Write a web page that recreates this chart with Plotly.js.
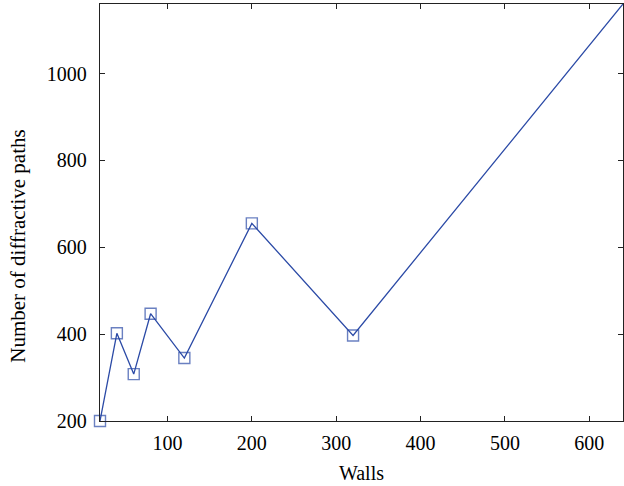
<!DOCTYPE html>
<html><head><meta charset="utf-8">
<script src="https://cdn.plot.ly/plotly-3.0.1.min.js"></script>
<style>body{margin:0;padding:0;background:#fff}</style>
</head><body><div id="chart" style="width:624px;height:486px"></div>
<script>
const walls = [20, 40, 60, 80, 120, 200, 320, 640];
const paths = [200, 402, 308, 447, 345, 655, 397, 1160];
const markerSizes = [11, 11, 11, 11, 11, 11, 11, 0];
const xTicks = [100, 200, 300, 400, 500, 600];
const yTicks = [200, 400, 600, 800, 1000];
const xTitle = 'Walls';
const yTitle = 'Number of diffractive paths';

const font = {family: '"Liberation Serif", "DejaVu Serif", serif', size: 20, color: '#000'};
const yfont = {family: '"Liberation Serif", "DejaVu Serif", serif', size: 21, color: '#000'};
Plotly.newPlot('chart', [{
  x: walls, y: paths, type: 'scatter', mode: 'lines+markers',
  line: {color: '#2b4aa6', width: 1.3},
  marker: {symbol: 'square-open', size: markerSizes, color: '#2b4aa6', line: {width: 1.4, color: '#2b4aa6'}},
  cliponaxis: false
}], {
  width: 624, height: 486,
  margin: {l: 100, r: 1, t: 4, b: 65},
  paper_bgcolor: '#fff', plot_bgcolor: '#fff',
  showlegend: false,
  font: font,
  xaxis: {range: [20, 640], tickvals: xTicks, ticks: 'inside', ticklen: 5, tickcolor: '#222',
    showline: true, linecolor: '#222', linewidth: 1.3, mirror: 'ticks', showgrid: false, zeroline: false,
    title: {text: xTitle, font: font, standoff: 12}, tickfont: font, ticklabelstandoff: 4},
  yaxis: {range: [200, 1160], tickvals: yTicks, ticks: 'inside', ticklen: 5, tickcolor: '#222',
    showline: true, linecolor: '#222', linewidth: 1.3, mirror: 'ticks', showgrid: false, zeroline: false,
    tickfont: font, ticklabelstandoff: 8},
  annotations: [{text: yTitle, font: yfont, textangle: -90, showarrow: false,
    xref: 'paper', yref: 'paper', x: -0.157, y: 0.42, xanchor: 'center', yanchor: 'middle'}]
}, {displayModeBar: false, staticPlot: true});
</script></body></html>
